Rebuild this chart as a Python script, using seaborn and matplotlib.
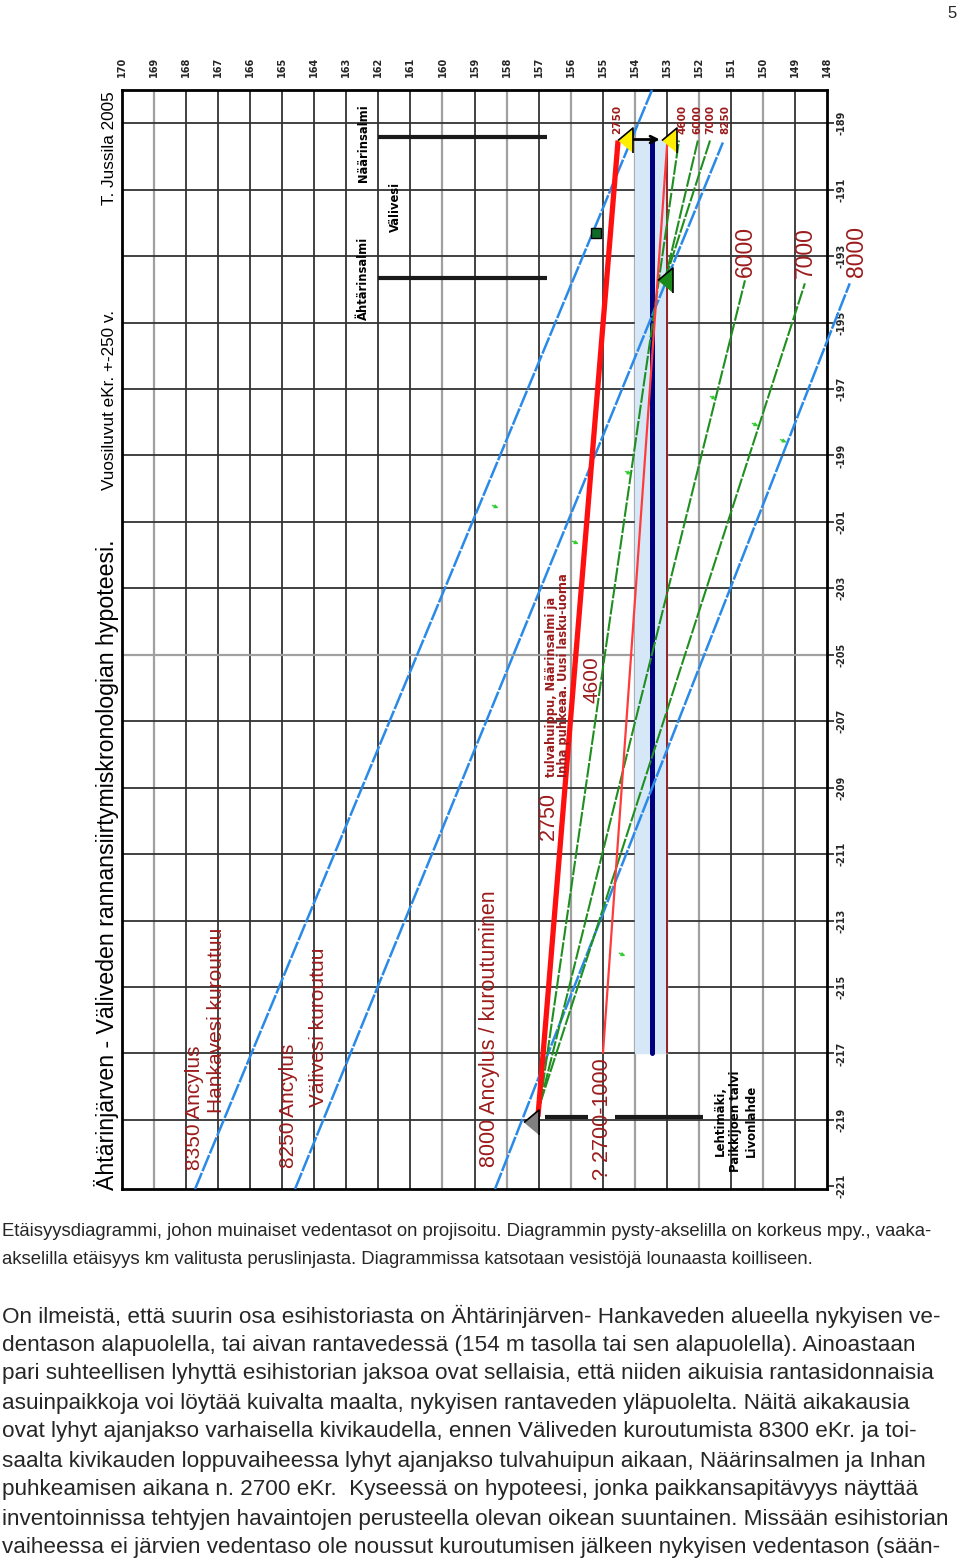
import numpy as np
import pandas as pd
import matplotlib
matplotlib.use("Agg")
import matplotlib.pyplot as plt
import seaborn as sns

sns.set_theme(style="white")
plt.rcParams['font.family'] = ['Liberation Sans', 'DejaVu Sans']

W, H = 960, 1561

# axis ranges: height (m a.s.l.) runs across, distance (km) runs down
heights = list(range(170, 147, -1))
distances = list(range(-189, -222, -2))
light_heights = [169, 160, 158, 156, 154, 152, 150]
light_distances = [-205]

# blue shoreline (Ancylus) lines, start/end in (height, distance)
blue_names = ["8350", "8250", "8000"]
blue_h0 = [167.72, 164.60, 158.36]
blue_d0 = [-221.08, -221.08, -221.08]
blue_h1 = [153.46, 151.25, 147.29]
blue_d1 = [-188.0, -189.58, -193.82]

# green shorelines
green_names = ["4600", "6000", "7000", "6000b", "7000b"]
green_h0 = [156.95, 156.95, 156.95, 152.03, 151.65]
green_d0 = [-218.5, -218.5, -218.5, -189.52, -189.52]
green_h1 = [152.62, 150.56, 148.69, 153.06, 153.06]
green_d1 = [-189.52, -193.73, -193.82, -193.73, -193.73]

# red lines
red_thick_h = [157.02, 154.52]
red_thick_d = [-218.9, -189.52]
red_thin_h = [154.99, 152.99]
red_thin_d = [-216.98, -189.66]
band_h = [154.0, 153.0]
band_d = [-189.5, -217.0]
navy_h = 153.46

# markers
yellow_tri_h = [154.31, 152.93]
yellow_tri_d = [-189.49, -189.49]
green_tri = (153.06, -193.73)
gray_tri = (157.24, -219.07)
green_sq = (155.21, -192.3)
small_arrows_h = [158.52, 156.02, 154.37, 151.72, 150.41, 149.53, 154.56]
small_arrows_d = [-200.47, -201.55, -199.45, -197.19, -198.0, -198.49, -213.95]

# black bars (lake outlets)
bar_d = [-189.42, -193.66]
bar_h = [162.0, 156.74]
bottom_bar_d = -218.92
bottom_bar_h = [(156.8, 155.46), (154.62, 151.87)]


def px(x, y):
    return x / W, 1 - y / H


fig = plt.figure(figsize=(W / 100, H / 100), dpi=100)
ax = fig.add_axes([122 / W, 1 - 1189 / H, 705 / W, 1099 / H])
ax.set_xlim(170, 148)
ax.set_ylim(-221.08, -188.0)

# grid
for h in heights[1:-1]:
    light = h in light_heights
    ax.axvline(h, color="#a0a0a0" if light else "#333333", lw=1.6 if light else 1.3, zorder=1)
for d in distances[:-1]:
    light = d in light_distances
    ax.axhline(d, color="#a0a0a0" if light else "#333333", lw=1.6 if light else 1.3, zorder=1)
for s in ax.spines.values():
    s.set_color("black")
    s.set_linewidth(2)

bold_font = ['DejaVu Sans', 'Liberation Sans']
ax.xaxis.tick_top()
ax.set_xticks(heights)
ax.set_xticklabels([str(h) for h in heights], rotation=90, fontsize=7, fontweight="bold",
                   family=bold_font)
ax.tick_params(axis="x", length=0, pad=9)
ax.yaxis.tick_right()
ax.set_yticks(distances)
ax.set_yticklabels([f"-{abs(d)}" for d in distances], rotation=90, fontsize=7, fontweight="bold",
                   family=bold_font, va="center")
ax.tick_params(axis="y", length=5, width=1.3, pad=2, color="#333333", right=True)

# light blue band and navy line
ax.fill_betweenx(band_d, band_h[0], band_h[1], color="#d6e8f8", zorder=2)
ax.plot([navy_h, navy_h], band_d, color="#000080", lw=3.6, zorder=4)
ax.plot([band_h[1], band_h[1]], [red_thin_d[1], red_thin_d[0]], color="#8b0000", lw=1.2, zorder=4)

# blue lines
blue = pd.DataFrame({
    "line": np.repeat(blue_names, 2),
    "h": np.ravel(np.column_stack([blue_h0, blue_h1])),
    "d": np.ravel(np.column_stack([blue_d0, blue_d1])),
})
sns.lineplot(data=blue, x="h", y="d", units="line", estimator=None, sort=False,
             color="#2a8ae8", lw=1.8, linestyle=(0, (7, 0.7)), ax=ax, zorder=5)
for ln in ax.lines[-3:]:
    ln.set_clip_on(False)

green = pd.DataFrame({
    "line": np.repeat(green_names, 2),
    "h": np.ravel(np.column_stack([green_h0, green_h1])),
    "d": np.ravel(np.column_stack([green_d0, green_d1])),
})
sns.lineplot(data=green, x="h", y="d", units="line", estimator=None, sort=False,
             color="#1f8f1f", lw=1.5, linestyle=(0, (7, 0.9)), ax=ax, zorder=5)
ax.set_xlabel("")
ax.set_ylabel("")

ax.plot(red_thin_h, red_thin_d, color="#ff3b3b", lw=1.6, zorder=6)
ax.plot(red_thick_h, red_thick_d, color="#ff1010", lw=3.8, zorder=6, solid_capstyle="butt")

# black bars
for d in bar_d:
    ax.plot(bar_h, [d, d], color="#1a1a1a", lw=3, zorder=6, solid_capstyle="butt")
for h0, h1 in bottom_bar_h:
    ax.plot([h0, h1], [bottom_bar_d, bottom_bar_d], color="#1a1a1a", lw=3, zorder=6,
            solid_capstyle="butt")

# markers
tri = [(-0.6, 0), (0.6, 1), (0.6, -1)]
ax.plot(yellow_tri_h, yellow_tri_d, ls="none", marker=tri, ms=18, mfc="#ffee00", mec="black",
        mew=1.2, zorder=8)
ax.plot(*green_tri, ls="none", marker=tri, ms=18, mfc="#1a8a1a", mec="black", mew=1.2, zorder=8)
ax.plot(*gray_tri, ls="none", marker=tri, ms=18, mfc="#808080", mec="black", mew=1.2, zorder=8)
ax.plot(*green_sq, ls="none", marker="s", ms=7, mfc="#0f6a2a", mec="black", mew=1, zorder=8)
ax.annotate("", xy=(yellow_tri_h[1] + 0.2, yellow_tri_d[1]), xytext=(yellow_tri_h[0] - 0.2, yellow_tri_d[0]),
            arrowprops=dict(arrowstyle="->", color="black", lw=2), zorder=7)
for h, d in zip(small_arrows_h, small_arrows_d):
    ax.annotate("", xy=(h - 0.35, d - 0.15), xytext=(h, d),
                arrowprops=dict(arrowstyle="-|>", color="#33cc33", lw=1, mutation_scale=5), zorder=7)

# texts inside chart (x centre, y bottom in page pixels)
red = "#9b1c1c"


def vtext(x, y, s, size, color="black", weight="normal", family=None, spacing=1.2):
    fig.text(*px(x, y), s, rotation=90, ha="center", va="bottom", fontsize=size, color=color,
             fontweight=weight, family=family or ['Liberation Sans', 'DejaVu Sans'],
             multialignment="center", linespacing=spacing, zorder=10)


vtext(107, 1190, "Ähtärinjärven - Väliveden rannansiirtymiskronologian hypoteesi.", 16.7)
vtext(110, 205, "T. Jussila 2005", 12.3)
vtext(110, 490, "Vuosiluvut eKr. +-250 v.", 12.3)
vtext(363, 182, "Näärinsalmi", 8.3, weight="bold", family=bold_font)
vtext(395, 232, "Välivesi", 8.3, weight="bold", family=bold_font)
vtext(363, 320, "Ähtärinsalmi", 8.3, weight="bold", family=bold_font)
vtext(195, 1170, "8350 Ancylus", 15, red)
vtext(216, 1113, "Hankavesi kuroutuu", 15, red)
vtext(288, 1168, "8250 Ancylus", 15, red)
vtext(318, 1107, "Välivesi kuroutuu", 15, red)
vtext(490, 1167, "8000 Ancylus / kuroutuminen", 15.5, red)
vtext(548, 840, "2750", 15.5, red)
vtext(552, 777, "tulvahuippu, Näärinsalmi ja", 8.3, red, "bold", bold_font)
vtext(564, 777, "Inha puhkeaa. Uusi lasku-uoma", 8.3, red, "bold", bold_font)
vtext(592, 703, "4600", 15, red)
vtext(745, 277, "6000", 16.5, red)
vtext(805, 278, "7000", 16.5, red)
vtext(857, 277, "8000", 16.5, red)
vtext(603, 1180, "? 2700-1000", 15.5, red)
for x, s in zip([617, 682, 697, 710, 725], ["2750", "4600", "6000", "7000", "8250"]):
    vtext(x, 134, s, 7.5, red, "bold", bold_font)
vtext(736, 1172, "Lehtimäki,\nPaikkijoen talvi\nLivonlahde", 8.5, weight="bold", family=bold_font,
      spacing=1.25)

fig.text(*px(952, 14), "5", ha="center", va="center", fontsize=12, family=['Liberation Sans'])

# caption and body text
caption = [
    "Etäisyysdiagrammi, johon muinaiset vedentasot on projisoitu. Diagrammin pysty-akselilla on korkeus mpy., vaaka-",
    "akselilla etäisyys km valitusta peruslinjasta. Diagrammissa katsotaan vesistöjä lounaasta koilliseen.",
]
body = [
    "On ilmeistä, että suurin osa esihistoriasta on Ähtärinjärven- Hankaveden alueella nykyisen ve-",
    "dentason alapuolella, tai aivan rantavedessä (154 m tasolla tai sen alapuolella). Ainoastaan",
    "pari suhteellisen lyhyttä esihistorian jaksoa ovat sellaisia, että niiden aikuisia rantasidonnaisia",
    "asuinpaikkoja voi löytää kuivalta maalta, nykyisen rantaveden yläpuolelta. Näitä aikakausia",
    "ovat lyhyt ajanjakso varhaisella kivikaudella, ennen Väliveden kuroutumista 8300 eKr. ja toi-",
    "saalta kivikauden loppuvaiheessa lyhyt ajanjakso tulvahuipun aikaan, Näärinsalmen ja Inhan",
    "puhkeamisen aikana n. 2700 eKr.  Kyseessä on hypoteesi, jonka paikkansapitävyys näyttää",
    "inventoinnissa tehtyjen havaintojen perusteella olevan oikean suuntainen. Missään esihistorian",
    "vaiheessa ei järvien vedentaso ole noussut kuroutumisen jälkeen nykyisen vedentason (sään-",
]
for i, line in enumerate(caption):
    fig.text(*px(2, 1232 + 28 * i), line, ha="left", va="center", fontsize=13.3,
             family=['Liberation Sans', 'DejaVu Sans'])
for i, line in enumerate(body):
    fig.text(*px(2, 1316 + 29 * i), line, ha="left", va="center", fontsize=16.2,
             family=['Liberation Sans', 'DejaVu Sans'])

fig.savefig("out.png", dpi=100, facecolor="white")
